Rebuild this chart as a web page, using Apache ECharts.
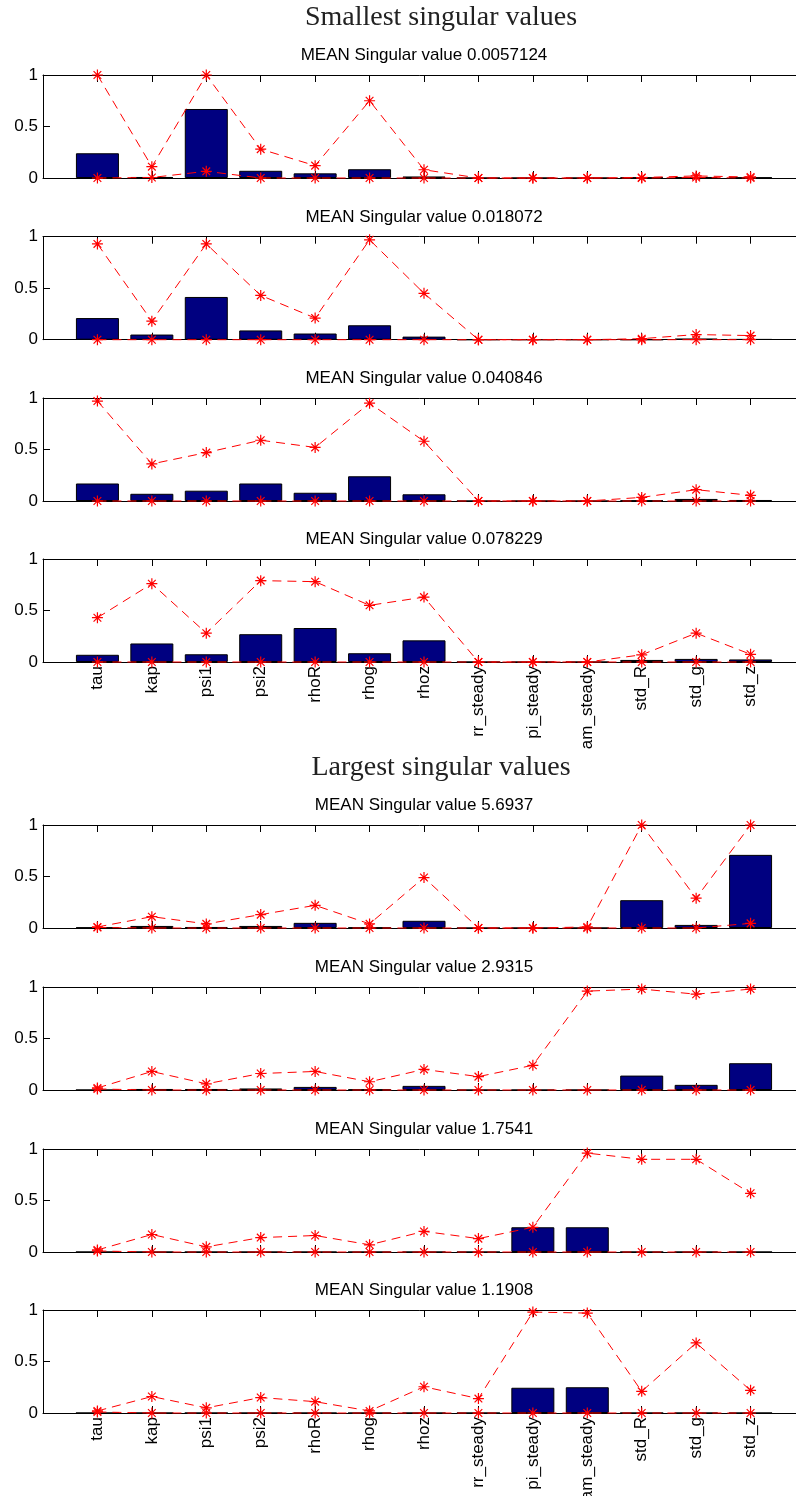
<!DOCTYPE html>
<html>
<head>
<meta charset="utf-8">
<script src="https://cdn.jsdelivr.net/npm/echarts@6/dist/echarts.min.js"></script>
<style>
body { margin: 0; background: #fff; }
#chart { width: 796px; height: 1496px; }
</style>
</head>
<body>
<div id="chart"></div>
<script>
// parameter names on the x axis
var params = ['tau', 'kap', 'psi1', 'psi2', 'rhoR', 'rhog', 'rhoz', 'rr_steady', 'pi_steady', 'gam_steady', 'std_R', 'std_g', 'std_z']
var yTicks = [0, 0.5, 1]
var meanSv = ['0.0057124', '0.018072', '0.040846', '0.078229', '5.6937', '2.9315', '1.7541', '1.1908']

// smallest singular values (panels 1-4)
var bar1 = [0.24, 0.01, 0.67, 0.07, 0.045, 0.085, 0.015, 0, 0, 0, 0.005, 0.01, 0.005]
var hi1 = [1.0, 0.11, 1.0, 0.28, 0.12, 0.75, 0.08, 0, 0, 0, 0.005, 0.02, 0.01]
var lo1 = [0, 0.005, 0.065, 0, 0, 0, 0, 0, 0, 0, 0, 0.005, 0]

var bar2 = [0.21, 0.05, 0.415, 0.09, 0.06, 0.14, 0.03, 0, 0, 0, 0, 0.01, 0.005]
var hi2 = [0.93, 0.18, 0.93, 0.43, 0.21, 0.97, 0.45, 0, 0, 0, 0.01, 0.05, 0.04]
var lo2 = [0, 0, 0, 0, 0, 0, 0, 0, 0, 0, 0, 0, 0]

var bar3 = [0.17, 0.07, 0.1, 0.17, 0.08, 0.24, 0.065, 0, 0, 0, 0.005, 0.02, 0.01]
var hi3 = [0.97, 0.36, 0.47, 0.59, 0.52, 0.95, 0.58, 0, 0, 0, 0.035, 0.11, 0.055]
var lo3 = [0, 0, 0, 0, 0, 0, 0, 0, 0, 0, 0, 0, 0]

var bar4 = [0.07, 0.18, 0.075, 0.27, 0.33, 0.085, 0.21, 0, 0, 0, 0.02, 0.03, 0.025]
var hi4 = [0.43, 0.76, 0.28, 0.79, 0.78, 0.55, 0.63, 0, 0, 0, 0.07, 0.28, 0.075]
var lo4 = [0, 0, 0, 0, 0, 0, 0, 0, 0, 0, 0, 0, 0]

// largest singular values (panels 5-8)
var bar5 = [0.005, 0.02, 0.01, 0.02, 0.05, 0.005, 0.07, 0, 0, 0, 0.27, 0.03, 0.71]
var hi5 = [0.01, 0.11, 0.04, 0.13, 0.22, 0.04, 0.49, 0, 0, 0.01, 1.0, 0.29, 1.0]
var lo5 = [0.005, 0, 0, 0, 0, 0, 0, 0, 0, 0, 0, 0, 0.045]

var bar6 = [0, 0.01, 0.01, 0.015, 0.03, 0.005, 0.04, 0, 0, 0, 0.14, 0.05, 0.26]
var hi6 = [0.02, 0.18, 0.06, 0.16, 0.18, 0.08, 0.2, 0.13, 0.24, 0.96, 0.98, 0.93, 0.98]
var lo6 = [0.01, 0, 0, 0, 0, 0, 0, 0, 0, 0, 0, 0, 0]

var bar7 = [0, 0, 0, 0, 0, 0, 0, 0, 0.24, 0.24, 0, 0, 0]
var hi7 = [0.02, 0.17, 0.05, 0.14, 0.16, 0.07, 0.2, 0.13, 0.24, 0.96, 0.9, 0.9, 0.57]
var lo7 = [0.01, 0, 0, 0, 0, 0, 0, 0, 0, 0, 0, 0, 0]

var bar8 = [0, 0, 0, 0, 0, 0, 0, 0, 0.245, 0.25, 0, 0, 0]
var hi8 = [0.02, 0.16, 0.05, 0.15, 0.11, 0.02, 0.255, 0.14, 0.98, 0.97, 0.21, 0.68, 0.22]
var lo8 = [0.01, 0, 0, 0, 0, 0, 0, 0, 0, 0, 0, 0, 0]

var bars = [bar1, bar2, bar3, bar4, bar5, bar6, bar7, bar8]
var his = [hi1, hi2, hi3, hi4, hi5, hi6, hi7, hi8]
var los = [lo1, lo2, lo3, lo4, lo5, lo6, lo7, lo8]

var tops = [75, 236.7, 398, 559, 825, 987, 1149, 1310]
var font = 'Liberation Sans, Arial, Helvetica, sans-serif'
var star = 'path://M5,0L5,10M0,5L10,5M1.5,1.5L8.5,8.5M1.5,8.5L8.5,1.5'

function pts (arr) {
    return arr.map(function (v, i) { return [i + 1, v] })
}

var grids = []
var xAxes = []
var yAxes = []
var series = []
var graphics = []

for (var i = 0; i < 8; i++) {
    var showLabels = (i === 3 || i === 7)
    grids.push({ left: 43, right: -9, top: tops[i], height: 103, outerBoundsMode: 'none', containLabel: false })
    // bottom axis with the parameter names
    xAxes.push({
        type: 'value', gridIndex: i, min: 0, max: 14, interval: 1, position: 'bottom',
        axisLine: { show: true, onZero: false, lineStyle: { color: '#000', width: 1 } },
        axisTick: { show: true, inside: true, length: 7, lineStyle: { color: '#000' } },
        axisLabel: {
            show: showLabels, rotate: 90, margin: 4, color: '#000', fontSize: 17, fontFamily: font,
            formatter: function (v) { return params[v - 1] || '' }
        },
        splitLine: { show: false }
    })
    // top box edge
    xAxes.push({
        type: 'value', gridIndex: i, min: 0, max: 14, interval: 1, position: 'top',
        axisLine: { show: true, onZero: false, lineStyle: { color: '#000', width: 1 } },
        axisTick: { show: true, inside: true, length: 7, lineStyle: { color: '#000' } },
        axisLabel: { show: false },
        splitLine: { show: false }
    })
    yAxes.push({
        type: 'value', gridIndex: i, min: 0, max: 1, interval: 0.5,
        axisLine: { show: true, lineStyle: { color: '#000', width: 1 } },
        axisTick: { show: true, inside: true, length: 7, lineStyle: { color: '#000' } },
        axisLabel: { color: '#000', fontSize: 17, fontFamily: font, margin: 5,
            formatter: function (v) { return yTicks.indexOf(v) >= 0 ? String(v) : '' } },
        splitLine: { show: false }
    })
    series.push({
        type: 'bar', xAxisIndex: 2 * i, yAxisIndex: i, barWidth: 43,
        itemStyle: { color: '#000080', borderColor: '#000', borderWidth: 1 },
        data: pts(bars[i])
    })
    ;[his[i], los[i]].forEach(function (arr) {
        series.push({
            type: 'line', xAxisIndex: 2 * i, yAxisIndex: i, clip: false,
            symbol: star, symbolSize: 11,
            itemStyle: { color: 'rgba(0,0,0,0)', borderColor: '#ff0000', borderWidth: 1.2 },
            lineStyle: { color: '#ff0000', width: 1, type: [9, 6] },
            data: pts(arr)
        })
    })
    graphics.push({
        type: 'text', x: 424, y: tops[i] - 19.5, z: 10,
        style: { text: 'MEAN Singular value ' + meanSv[i], fill: '#000', font: '17px ' + font,
            textAlign: 'center', textVerticalAlign: 'middle' }
    })
}

// the upper figure is cut off just above the lower one
graphics.push({ type: 'rect', z: 100, shape: { x: 0, y: 750, width: 796, height: 14 }, style: { fill: '#fff' } })
graphics.push({
    type: 'text', x: 441, y: 18, z: 101,
    style: { text: 'Smallest singular values', fill: '#222', font: '28px Liberation Serif, Times New Roman, serif',
        textAlign: 'center', textVerticalAlign: 'middle' }
})
graphics.push({
    type: 'text', x: 441, y: 768, z: 101,
    style: { text: 'Largest singular values', fill: '#222', font: '28px Liberation Serif, Times New Roman, serif',
        textAlign: 'center', textVerticalAlign: 'middle' }
})

var myChart = echarts.init(document.getElementById('chart'))
myChart.setOption({
    animation: false,
    backgroundColor: '#fff',
    grid: grids,
    xAxis: xAxes,
    yAxis: yAxes,
    series: series,
    graphic: graphics
})
</script>
</body>
</html>
